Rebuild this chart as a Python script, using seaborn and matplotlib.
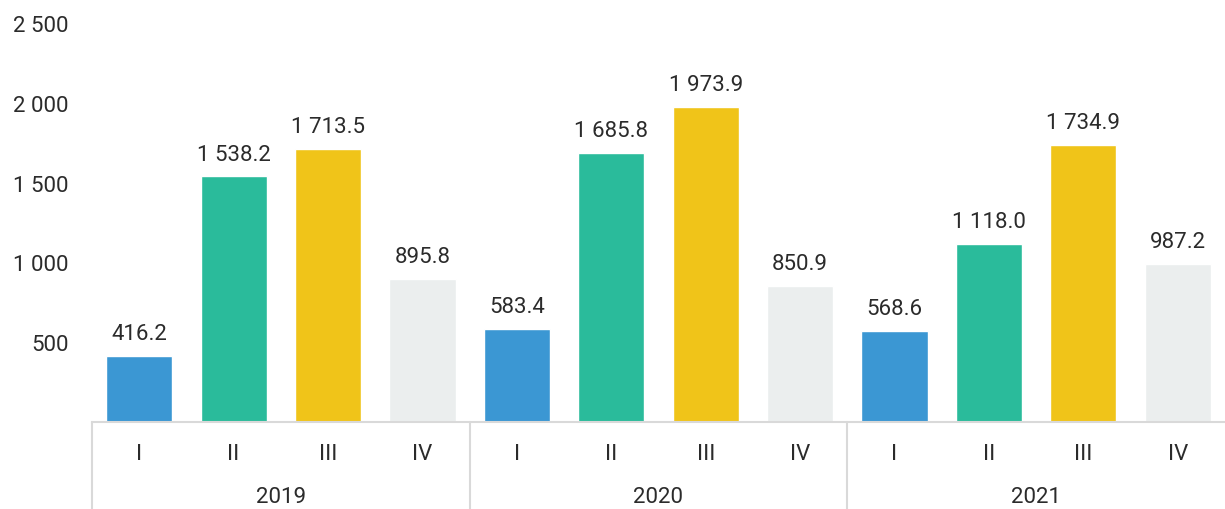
import pandas as pd
import numpy as np
import matplotlib.pyplot as plt
import seaborn as sns
from matplotlib.transforms import blended_transform_factory

years = ['2019', '2020', '2021']
quarters = ['I', 'II', 'III', 'IV']
values_2019 = [416.2, 1538.2, 1713.5, 895.8]
values_2020 = [583.4, 1685.8, 1973.9, 850.9]
values_2021 = [568.6, 1118.0, 1734.9, 987.2]
colors = ['#3b97d3', '#2abb9b', '#f0c419', '#ebeeee']

rows = []
for y, vals in zip(years, [values_2019, values_2020, values_2021]):
    for q, v in zip(quarters, vals):
        rows.append({'slot': f'{y}-{q}', 'year': y, 'quarter': q, 'value': v})
df = pd.DataFrame(rows)

sns.set_style('white')
plt.rcParams['font.family'] = ['Roboto', 'DejaVu Sans']

fig = plt.figure(figsize=(12.25, 5.10), dpi=100)
ax = fig.add_axes([0.0751, 0.1706, 0.9249, 0.7824])

sns.barplot(data=df, x='slot', y='value', hue='quarter', palette=colors,
            dodge=False, width=0.7, legend=False, ax=ax, saturation=1)

fs = 16
txt = '#2b2b2b'
ax.set_ylim(0, 2500)
ax.set_xlim(-0.5, len(df) - 0.5)
ax.set_yticks([500, 1000, 1500, 2000, 2500])
ax.set_yticklabels([f'{t:,}'.replace(',', ' ') for t in [500, 1000, 1500, 2000, 2500]],
                   fontsize=fs, color=txt)
ax.tick_params(axis='y', length=0, pad=17)
ax.set_xticks([])
ax.set_xlabel('')
ax.set_ylabel('')
for s in ['top', 'right', 'left']:
    ax.spines[s].set_visible(False)
ax.spines['bottom'].set_color('#d9d9d9')
ax.spines['bottom'].set_linewidth(1.5)

for i, row in df.iterrows():
    lab = f"{row['value']:,.1f}".replace(',', ' ')
    ax.text(i, row['value'] + 75, lab, ha='center', va='bottom',
            fontsize=fs, color=txt)

trans = blended_transform_factory(ax.transData, fig.transFigure)
for i, row in df.iterrows():
    ax.text(i, 1 - 455 / 510, row['quarter'], transform=trans, ha='center',
            va='center', fontsize=fs, color=txt)
for g, y in enumerate(years):
    ax.text(g * 4 + 1.5, 1 - 498 / 510, y, transform=trans, ha='center',
            va='center', fontsize=fs, color=txt)
for b in [-0.5, 3.5, 7.5]:
    ax.plot([b, b], [0.1706, 0.0], transform=trans, color='#d9d9d9',
            lw=1.5, clip_on=False)

fig.savefig('out.png', dpi=100)
